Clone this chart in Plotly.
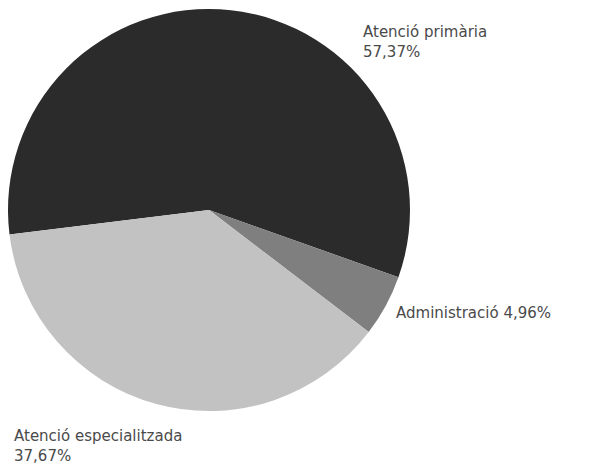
import plotly.graph_objects as go

# Share of spending by area
labels = ["Atenció primària", "Administració", "Atenció especialitzada"]
shares = [57.37, 4.96, 37.67]
colors = ["#2b2b2b", "#7f7f7f", "#c2c2c2"]

W, H = 592, 471
cx, cy, r = 209, 210, 201  # pie centre and radius in pixels


def fmt(v):
    return f"{v:.2f}".replace(".", ",") + "%"


fig = go.Figure(
    go.Pie(
        labels=labels,
        values=shares,
        sort=False,
        direction="clockwise",
        rotation=263,
        marker=dict(colors=colors, line=dict(width=0)),
        textinfo="none",
        hoverinfo="label+percent",
        domain=dict(x=[(cx - r) / W, (cx + r) / W], y=[1 - (cy + r) / H, 1 - (cy - r) / H]),
        showlegend=False,
    )
)

# Slice labels placed outside the pie
label_pos = [
    (361, 21, f"{labels[0]}<br>{fmt(shares[0])}"),
    (394, 313, f"{labels[1]} {fmt(shares[1])}"),
    (12, 425, f"{labels[2]}<br>{fmt(shares[2])}"),
]
for x, y, t in label_pos:
    fig.add_annotation(
        x=x / W, y=1 - y / H, xref="paper", yref="paper",
        xanchor="left", yanchor="top" if "<br>" in t else "middle",
        text=t, showarrow=False, align="left",
        font=dict(family="DejaVu Sans", size=15, color="#4a4a4a"),
    )

fig.update_layout(
    width=W, height=H,
    margin=dict(l=0, r=0, t=0, b=0),
    paper_bgcolor="white",
    plot_bgcolor="white",
)

fig.write_html("out.html")
